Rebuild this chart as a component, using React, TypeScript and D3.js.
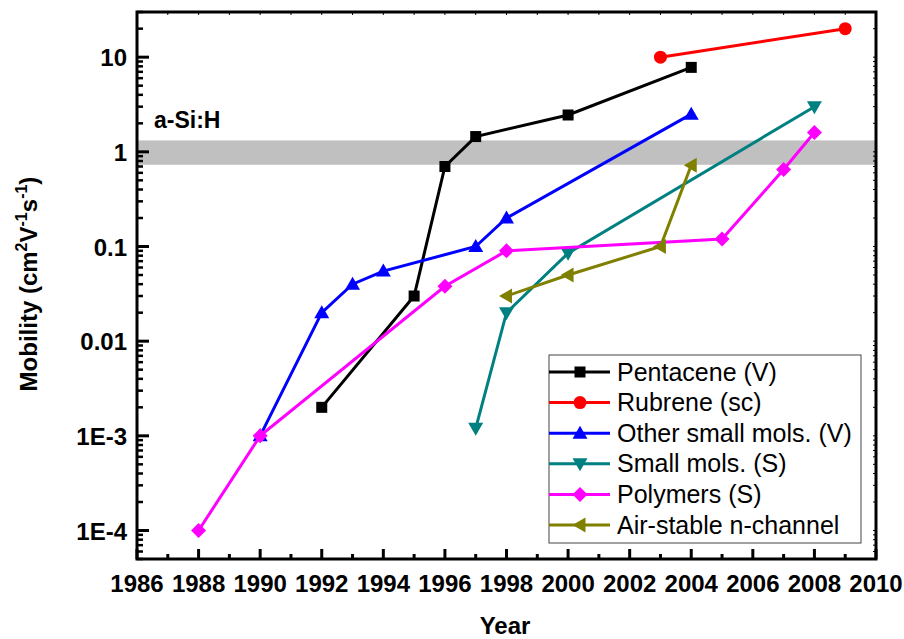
import React, { useEffect } from 'react';
import * as d3 from 'd3';

// data
const pentaceneYears = [1992, 1995, 1996, 1997, 2000, 2004];
const pentaceneValues = [0.002, 0.03, 0.7, 1.45, 2.45, 7.8];
const rubreneYears = [2003, 2009];
const rubreneValues = [10, 20];
const otherSmallYears = [1990, 1992, 1993, 1994, 1997, 1998, 2004];
const otherSmallValues = [0.001, 0.02, 0.04, 0.055, 0.1, 0.2, 2.5];
const smallSolYears = [1997, 1998, 2000, 2008];
const smallSolValues = [0.0012, 0.02, 0.085, 3];
const polymerYears = [1988, 1990, 1996, 1998, 2005, 2007, 2008];
const polymerValues = [0.0001, 0.001, 0.038, 0.09, 0.12, 0.65, 1.6];
const nChannelYears = [1998, 2000, 2003, 2004];
const nChannelValues = [0.03, 0.05, 0.1, 0.72];

const xTicks = [1986, 1988, 1990, 1992, 1994, 1996, 1998, 2000, 2002, 2004, 2006, 2008, 2010];
const yTicks = [1e-4, 1e-3, 0.01, 0.1, 1, 10];
const yTickLabels = ['1E-4', '1E-3', '0.01', '0.1', '1', '10'];
const bandRange = [0.73, 1.32];

const series = [
  { name: 'Pentacene (V)', years: pentaceneYears, values: pentaceneValues, color: '#000000', symbol: 'square' },
  { name: 'Rubrene (sc)', years: rubreneYears, values: rubreneValues, color: '#ff0000', symbol: 'circle' },
  { name: 'Other small mols. (V)', years: otherSmallYears, values: otherSmallValues, color: '#0000ff', symbol: 'up' },
  { name: 'Small mols. (S)', years: smallSolYears, values: smallSolValues, color: '#008080', symbol: 'down' },
  { name: 'Polymers (S)', years: polymerYears, values: polymerValues, color: '#ff00ff', symbol: 'diamond' },
  { name: 'Air-stable n-channel', years: nChannelYears, values: nChannelValues, color: '#808000', symbol: 'left' },
];

const W = 904;
const H = 639;
const margin = { left: 137, right: 876, top: 12, bottom: 559 };
const font = 'Arial, "Liberation Sans", sans-serif';

function Marker({ kind, x, y, color }: { kind: string; x: number; y: number; color: string }) {
  const s = 6.5;
  if (kind === 'square') return <rect x={x - 5.5} y={y - 5.5} width={11} height={11} fill={color} />;
  if (kind === 'circle') return <circle cx={x} cy={y} r={6.5} fill={color} />;
  if (kind === 'diamond')
    return <path d={`M${x},${y - 7.5}L${x + 7.5},${y}L${x},${y + 7.5}L${x - 7.5},${y}Z`} fill={color} />;
  let pts: number[][] = [];
  if (kind === 'up') pts = [[0, -s - 1], [s + 1, s - 1], [-s - 1, s - 1]];
  if (kind === 'down') pts = [[0, s + 1], [s + 1, -s + 1], [-s - 1, -s + 1]];
  if (kind === 'left') pts = [[-s - 1, 0], [s - 1, -s - 1], [s - 1, s + 1]];
  return <path d={'M' + pts.map(p => `${x + p[0]},${y + p[1]}`).join('L') + 'Z'} fill={color} />;
}

export default function App() {
  useEffect(() => {
    document.body.style.margin = '0';
  }, []);

  const x = d3.scaleLinear().domain([1986, 2010]).range([margin.left, margin.right]);
  const y = d3.scaleLog().domain([5e-5, 30]).range([margin.bottom, margin.top]);

  const line = d3.line<[number, number]>()
    .x(d => x(d[0]))
    .y(d => y(d[1]));

  const minorY: number[] = [];
  for (let e = -5; e <= 1; e++) {
    for (let k = 2; k <= 9; k++) {
      const v = k * Math.pow(10, e);
      if (v >= 5e-5 && v <= 30) minorY.push(v);
    }
  }
  const minorX = d3.range(1987, 2010, 2);

  const legendX = 549;
  const legendY = 355;
  const rowH = 30.6;

  return (
    <svg width={W} height={H} style={{ display: 'block', background: '#fff' }}>
      {/* a-Si:H band */}
      <rect x={margin.left} y={y(bandRange[1])} width={margin.right - margin.left}
        height={y(bandRange[0]) - y(bandRange[1])} fill="#c0c0c0" />
      <text x={154} y={128} fontFamily={font} fontWeight="bold" fontSize={23}>a-Si:H</text>

      {/* series */}
      {series.map(s => {
        const pts = s.years.map((yr, i) => [yr, s.values[i]] as [number, number]);
        return (
          <g key={s.name}>
            <path d={line(pts) || ''} fill="none" stroke={s.color} strokeWidth={3} />
            {pts.map((p, i) => <Marker key={i} kind={s.symbol} x={x(p[0])} y={y(p[1])} color={s.color} />)}
          </g>
        );
      })}

      {/* legend */}
      <rect x={legendX} y={legendY} width={312} height={188} fill="#fff" stroke="#444" strokeWidth={1} />
      {series.map((s, i) => {
        const cy = legendY + 17 + i * rowH;
        return (
          <g key={s.name}>
            <line x1={legendX} x2={legendX + 61} y1={cy} y2={cy} stroke={s.color} strokeWidth={3} />
            <Marker kind={s.symbol} x={legendX + 31} y={cy} color={s.color} />
            <text x={legendX + 68} y={cy + 8.5} fontFamily={font} fontSize={25}>{s.name}</text>
          </g>
        );
      })}

      {/* frame */}
      <rect x={margin.left} y={margin.top} width={margin.right - margin.left} height={margin.bottom - margin.top}
        fill="none" stroke="#000" strokeWidth={3} />

      {/* x ticks */}
      {xTicks.map(t => (
        <g key={t}>
          <line x1={x(t)} x2={x(t)} y1={margin.bottom} y2={margin.bottom - 10} stroke="#000" strokeWidth={3} />
          <line x1={x(t)} x2={x(t)} y1={margin.top} y2={margin.top + 3} stroke="#000" strokeWidth={1} />
          <text x={x(t)} y={592} textAnchor="middle" fontFamily={font} fontWeight="bold" fontSize={24}>{t}</text>
        </g>
      ))}
      {minorX.map(t => (
        <g key={t}>
          <line x1={x(t)} x2={x(t)} y1={margin.bottom} y2={margin.bottom - 5} stroke="#000" strokeWidth={3} />
          <line x1={x(t)} x2={x(t)} y1={margin.top} y2={margin.top + 3} stroke="#000" strokeWidth={1} />
        </g>
      ))}

      {/* y ticks */}
      {yTicks.map((t, i) => (
        <g key={t}>
          <line x1={margin.left} x2={margin.left + 12} y1={y(t)} y2={y(t)} stroke="#000" strokeWidth={3} />
          <line x1={margin.right} x2={margin.right - 3} y1={y(t)} y2={y(t)} stroke="#000" strokeWidth={1} />
          <text x={127} y={y(t) + 9} textAnchor="end" fontFamily={font} fontWeight="bold" fontSize={24}>{yTickLabels[i]}</text>
        </g>
      ))}
      {minorY.map(t => (
        <g key={t}>
          <line x1={margin.left} x2={margin.left + 6} y1={y(t)} y2={y(t)} stroke="#000" strokeWidth={2.5} />
          <line x1={margin.right} x2={margin.right - 3} y1={y(t)} y2={y(t)} stroke="#000" strokeWidth={1} />
        </g>
      ))}

      {/* axis titles */}
      <text x={505} y={634} textAnchor="middle" fontFamily={font} fontWeight="bold" fontSize={24}>Year</text>
      <text transform="translate(37,284) rotate(-90)" textAnchor="middle" fontFamily={font} fontWeight="bold" fontSize={24}>
        Mobility (cm<tspan fontSize={16} dy={-10}>2</tspan>
        <tspan dy={10}>V</tspan><tspan fontSize={16} dy={-10}>-1</tspan>
        <tspan dy={10}>s</tspan><tspan fontSize={16} dy={-10}>-1</tspan>
        <tspan dy={10}>)</tspan>
      </text>
    </svg>
  );
}
